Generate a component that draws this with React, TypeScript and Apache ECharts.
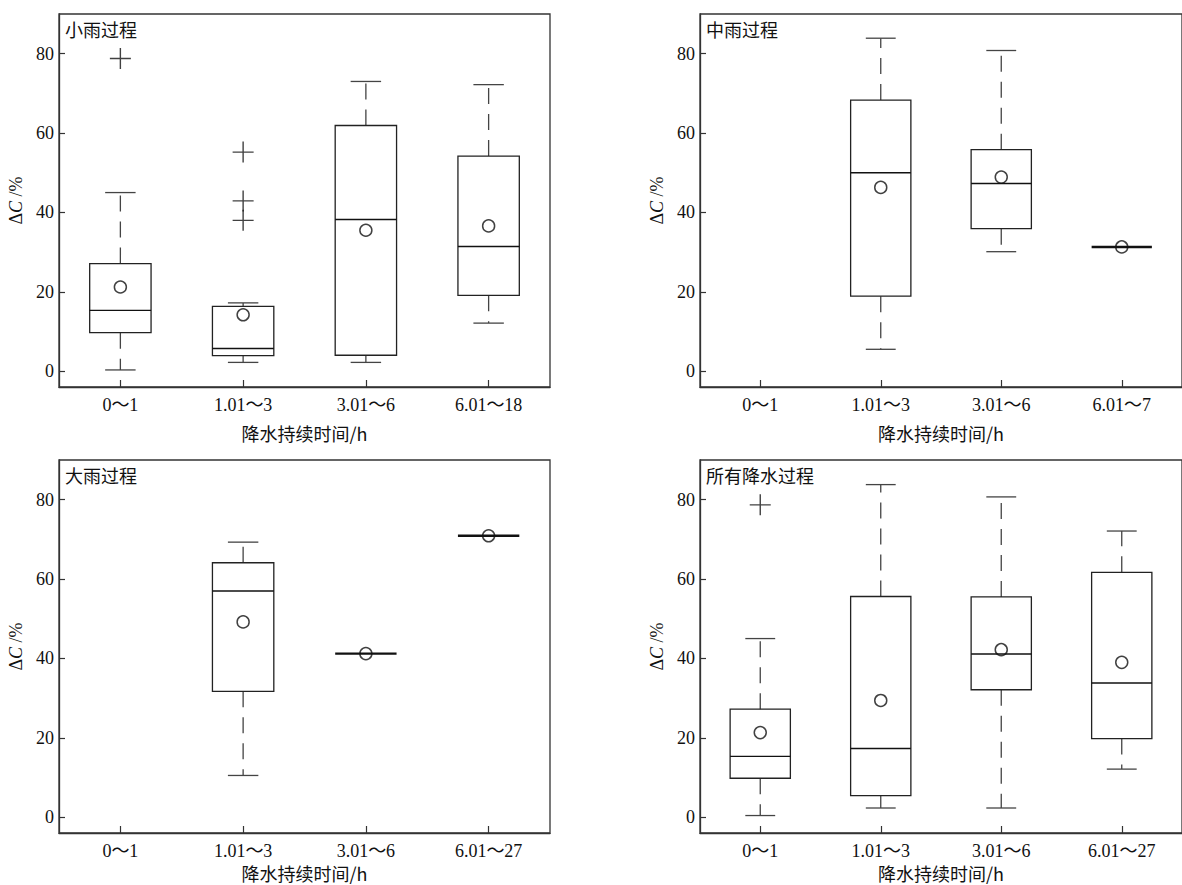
import { useEffect, useRef } from 'react';
import * as echarts from 'echarts';

// Category labels (rain duration classes, hours)
const lightCategories = ['0～1', '1.01～3', '3.01～6', '6.01～18'];
const moderateCategories = ['0～1', '1.01～3', '3.01～6', '6.01～7'];
const heavyCategories = ['0～1', '1.01～3', '3.01～6', '6.01～27'];
const allCategories = ['0～1', '1.01～3', '3.01～6', '6.01～27'];

// Box statistics per class: [lower whisker, Q1, median, Q3, upper whisker]
const lightBoxes = [
  [0.3, 9.7, 15.3, 27.1, 45.0],
  [2.2, 3.9, 5.7, 16.3, 17.2],
  [2.2, 4.0, 38.2, 61.9, 73.0],
  [12.1, 19.1, 31.4, 54.2, 72.2],
];
const lightMeans = [21.2, 14.2, 35.5, 36.6];
const lightOutliers = [
  [0, 78.8],
  [1, 55.2],
  [1, 42.9],
  [1, 38.0],
];

const moderateBoxes = [
  null,
  [5.5, 18.9, 50.0, 68.3, 83.9],
  [30.1, 35.9, 47.3, 55.8, 80.8],
  [31.3, 31.3, 31.3, 31.3, 31.3],
];
const moderateMeans = [null, 46.3, 48.9, 31.3];
const moderateOutliers: number[][] = [];

const heavyBoxes = [
  null,
  [10.5, 31.7, 57.0, 64.1, 69.3],
  [41.2, 41.2, 41.2, 41.2, 41.2],
  [70.9, 70.9, 70.9, 70.9, 70.9],
];
const heavyMeans = [null, 49.2, 41.2, 70.9];
const heavyOutliers: number[][] = [];

const allBoxes = [
  [0.4, 9.8, 15.3, 27.2, 45.0],
  [2.3, 5.4, 17.3, 55.6, 83.8],
  [2.3, 32.1, 41.1, 55.5, 80.7],
  [12.1, 19.8, 33.8, 61.7, 72.1],
];
const allMeans = [21.3, 29.4, 42.2, 39.0];
const allOutliers = [[0, 78.7]];

const yTicks = [0, 20, 40, 60, 80];

const SERIF = "'Liberation Serif', 'Noto Sans CJK SC', serif";
const CJK = "'Noto Sans CJK SC', sans-serif";
const INK = '#111';

const panels = [
  { title: '小雨过程', categories: lightCategories, boxes: lightBoxes, means: lightMeans, outliers: lightOutliers, left: 59, top: 14, nameGap: 37 },
  { title: '中雨过程', categories: moderateCategories, boxes: moderateBoxes, means: moderateMeans, outliers: moderateOutliers, left: 700, top: 14, nameGap: 37 },
  { title: '大雨过程', categories: heavyCategories, boxes: heavyBoxes, means: heavyMeans, outliers: heavyOutliers, left: 59, top: 460, nameGap: 31 },
  { title: '所有降水过程', categories: allCategories, boxes: allBoxes, means: allMeans, outliers: allOutliers, left: 700, top: 460, nameGap: 31 },
];

const GRID_W = 491;
const GRID_H = 373;

function renderBox(_params: any, api: any) {
  const idx = api.value(0);
  const low = api.value(1);
  const q1 = api.value(2);
  const med = api.value(3);
  const q3 = api.value(4);
  const high = api.value(5);
  const band = api.size([1, 0])[0];
  const halfBox = band * 0.25;
  const halfCap = band * 0.124;
  const cx = api.coord([idx, med])[0];
  const y = (v: number) => api.coord([idx, v])[1];
  const children: any[] = [];

  if (high === low) {
    children.push({
      type: 'line',
      shape: { x1: cx - halfBox, y1: y(med), x2: cx + halfBox, y2: y(med) },
      style: { stroke: INK, lineWidth: 2.4 },
    });
    return { type: 'group', children };
  }

  const whiskerStyle = { stroke: '#444', lineWidth: 1.3, lineDash: [16, 10] };
  const capStyle = { stroke: '#444', lineWidth: 1.3 };
  if (high > q3) {
    children.push({ type: 'line', shape: { x1: cx, y1: y(q3), x2: cx, y2: y(high) }, style: whiskerStyle });
  }
  if (low < q1) {
    children.push({ type: 'line', shape: { x1: cx, y1: y(q1), x2: cx, y2: y(low) }, style: whiskerStyle });
  }
  children.push({ type: 'line', shape: { x1: cx - halfCap, y1: y(high), x2: cx + halfCap, y2: y(high) }, style: capStyle });
  children.push({ type: 'line', shape: { x1: cx - halfCap, y1: y(low), x2: cx + halfCap, y2: y(low) }, style: capStyle });
  children.push({
    type: 'rect',
    shape: { x: cx - halfBox, y: y(q3), width: halfBox * 2, height: y(q1) - y(q3) },
    style: { fill: 'transparent', stroke: '#222', lineWidth: 1.3 },
  });
  children.push({
    type: 'line',
    shape: { x1: cx - halfBox, y1: y(med), x2: cx + halfBox, y2: y(med) },
    style: { stroke: INK, lineWidth: 1.4 },
  });
  return { type: 'group', children };
}

export default function App() {
  const ref = useRef<HTMLDivElement>(null);

  useEffect(() => {
    if (!ref.current) return;
    const chart = echarts.init(ref.current, undefined, { renderer: 'svg' });

    const grid: any[] = [];
    const xAxis: any[] = [];
    const yAxis: any[] = [];
    const series: any[] = [];
    const graphic: any[] = [];

    panels.forEach((p, k) => {
      grid.push({
        left: p.left,
        top: p.top,
        width: GRID_W,
        height: GRID_H,
        show: true,
        borderColor: '#333',
        borderWidth: 1.3,
        backgroundColor: 'transparent',
      });
      xAxis.push({
        type: 'category',
        gridIndex: k,
        data: p.categories,
        boundaryGap: true,
        name: '降水持续时间/h',
        nameLocation: 'middle',
        nameGap: p.nameGap,
        nameTextStyle: { fontFamily: CJK, fontSize: 18, color: INK },
        axisLine: { show: true, onZero: false, lineStyle: { color: '#333', width: 1.3 } },
        axisTick: { show: true, inside: true, length: 7, alignWithLabel: true, lineStyle: { color: '#333', width: 1.2 } },
        axisLabel: { margin: 9, fontFamily: SERIF, fontSize: 18, color: INK },
        splitLine: { show: false },
      });
      yAxis.push({
        type: 'value',
        gridIndex: k,
        min: -4,
        max: 90,
        name: '{d|Δ}{c|C}{d| /%}',
        nameLocation: 'middle',
        nameGap: 34,
        nameTextStyle: {
          rich: {
            d: { fontFamily: SERIF, fontSize: 18, color: INK },
            c: { fontFamily: SERIF, fontSize: 18, fontStyle: 'italic', color: INK },
          },
        },
        axisLine: { show: true, onZero: false, lineStyle: { color: '#333', width: 1.3 } },
        axisTick: { show: true, inside: true, length: 6, customValues: yTicks, lineStyle: { color: '#333', width: 1.2 } },
        axisLabel: { margin: 5, fontFamily: SERIF, fontSize: 18, color: INK, customValues: yTicks },
        splitLine: { show: false },
      });

      const boxData = p.boxes
        .map((b, i) => (b ? [i, ...b] : null))
        .filter((d) => d !== null);
      series.push({
        type: 'custom',
        xAxisIndex: k,
        yAxisIndex: k,
        renderItem: renderBox,
        encode: { x: 0, y: [1, 2, 3, 4, 5] },
        data: boxData,
        z: 2,
      });
      series.push({
        type: 'scatter',
        xAxisIndex: k,
        yAxisIndex: k,
        symbol: 'circle',
        symbolSize: 12,
        itemStyle: { color: 'transparent', borderColor: INK, borderWidth: 1.5 },
        data: p.means.map((m, i) => (m === null ? null : [i, m])).filter((d) => d !== null),
        z: 4,
      });
      if (p.outliers.length) {
        series.push({
          type: 'scatter',
          xAxisIndex: k,
          yAxisIndex: k,
          symbol: 'path://M0,10H20M10,0V20',
          symbolSize: 21,
          itemStyle: { color: 'transparent', borderColor: INK, borderWidth: 1.4 },
          data: p.outliers,
          z: 4,
        });
      }
      graphic.push({
        type: 'text',
        left: p.left + 6,
        top: p.top + 6,
        style: { text: p.title, fontFamily: CJK, fontSize: 18, fill: INK },
      });
    });

    chart.setOption({
      animation: false,
      backgroundColor: '#fff',
      grid,
      xAxis,
      yAxis,
      series,
      graphic,
    });

    return () => chart.dispose();
  }, []);

  return (
    <div
      ref={ref}
      style={{ position: 'fixed', left: 0, top: 0, width: 1182, height: 885, background: '#fff' }}
    />
  );
}
